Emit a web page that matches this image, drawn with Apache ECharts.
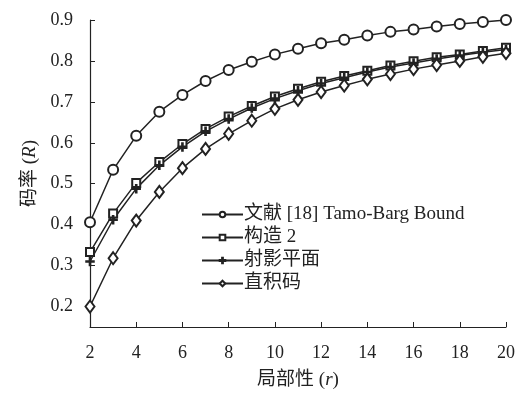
<!DOCTYPE html>
<html><head><meta charset="utf-8">
<script src="https://cdn.jsdelivr.net/npm/echarts@6/dist/echarts.min.js"></script>
<style>html,body{margin:0;padding:0;background:#fff}#c{width:523px;height:395px}</style>
</head><body><div id="c"></div>
<script>
const categories = [2,3,4,5,6,7,8,9,10,11,12,13,14,15,16,17,18,19,20];
const tamoBarg = [0.406,0.534,0.617,0.676,0.717,0.751,0.778,0.798,0.816,0.830,0.843,0.852,0.862,0.871,0.877,0.884,0.890,0.895,0.900];
const construct2 = [0.333,0.427,0.502,0.553,0.597,0.634,0.664,0.690,0.713,0.732,0.749,0.763,0.776,0.789,0.799,0.809,0.816,0.824,0.832];
const projective = [0.310,0.412,0.488,0.545,0.590,0.628,0.658,0.685,0.708,0.727,0.745,0.759,0.773,0.785,0.795,0.805,0.813,0.821,0.828];
const productCode = [0.200,0.318,0.410,0.480,0.538,0.585,0.622,0.654,0.683,0.705,0.724,0.740,0.755,0.768,0.780,0.790,0.800,0.810,0.819];
const yTicks = [0.2,0.3,0.4,0.5,0.6,0.7,0.8,0.9];
const xTicks = [2,4,6,8,10,12,14,16,18,20];
const names = ['文献 [18] Tamo-Barg Bound','构造 2','射影平面','直积码'];

const FONT = '"Liberation Serif","Noto Sans CJK SC",serif';
const C = '#222';
const plusPath = 'path://M4.3,0H5.7V4.3H10V5.7H5.7V10H4.3V5.7H0V4.3H4.3Z';
function pts(arr){ return categories.map((x,i)=>[x,arr[i]]); }
function ser(name, data, symbol, size){
  return {name, type:'line', data:pts(data), symbol, symbolSize:size, showAllSymbol:true,
    lineStyle:{color:C,width:1.5}, itemStyle:{color:C,borderColor:C,borderWidth:1.5}, z:2};
}
const chart = echarts.init(document.getElementById('c'), null, {renderer:'canvas'});
chart.setOption({
  animation:false,
  backgroundColor:'#fff',
  grid:{left:90,right:17,top:20,bottom:68,containLabel:false},
  legend:{orient:'vertical',left:196,top:200,itemWidth:41,itemHeight:7,itemGap:4,
    textStyle:{fontFamily:FONT,fontSize:19,color:C,padding:[0,0,0,-4]},
    data:names.map(n=>({name:n}))},
  xAxis:{type:'value',min:2,max:20,
    axisLine:{lineStyle:{color:C,width:1.2}},
    axisTick:{inside:true,length:5,customValues:xTicks,lineStyle:{color:C}},
    axisLabel:{customValues:xTicks,margin:17,fontFamily:FONT,fontSize:18,color:C},
    splitLine:{show:false},
    name:'局部性 ({i|r})',nameLocation:'middle',nameGap:44,
    nameTextStyle:{fontFamily:FONT,fontSize:19,color:C,rich:{i:{fontFamily:FONT,fontSize:19,fontStyle:'italic',color:C}}}},
  yAxis:{type:'value',min:0.15,max:0.9,
    axisLine:{show:true,lineStyle:{color:C,width:1.2}},
    axisTick:{show:true,inside:true,length:5,customValues:yTicks,lineStyle:{color:C}},
    axisLabel:{customValues:yTicks,margin:17,fontFamily:FONT,fontSize:18,color:C,formatter:v=>v.toFixed(1)},
    splitLine:{show:false},
    name:'码率 ({i|R})',nameLocation:'middle',nameGap:50,
    nameTextStyle:{fontFamily:FONT,fontSize:19,color:C,rich:{i:{fontFamily:FONT,fontSize:19,fontStyle:'italic',color:C}}}},
  series:[
    ser(names[0],tamoBarg,'emptyCircle',10),
    ser(names[1],construct2,'emptyRect',8),
    ser(names[2],projective,plusPath,8),
    ser(names[3],productCode,'emptyDiamond',[9,12])
  ]
});
</script></body></html>
